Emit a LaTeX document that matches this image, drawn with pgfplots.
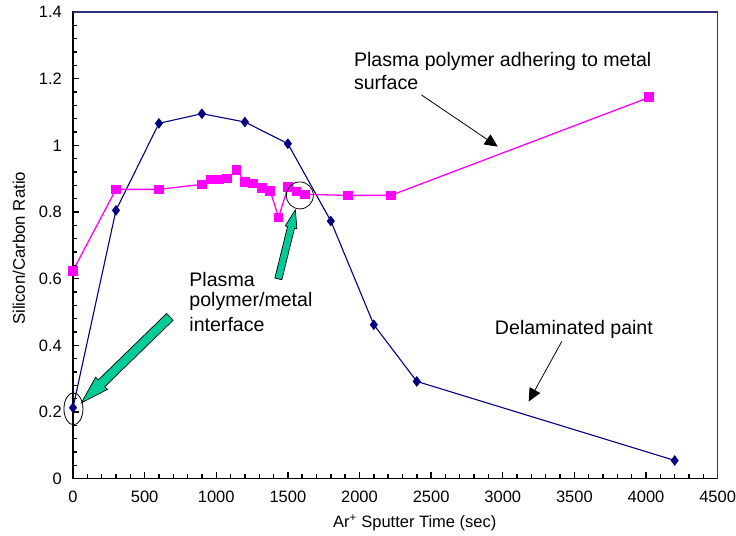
\documentclass[border=0pt]{standalone}
\usepackage{pgfplots}
\pgfplotsset{compat=1.18}
\usepackage{fontspec}
\setmainfont{Liberation Sans}
\usetikzlibrary{arrows.meta,calc}
\definecolor{navyb}{RGB}{0,0,128}
\definecolor{magen}{RGB}{255,0,255}
\definecolor{framec}{RGB}{50,50,130}
\definecolor{arrgreen}{RGB}{0,204,153}

\newcommand{\fatarrow}[5]{%
  \coordinate (fa) at #1; \coordinate (fb) at #2;
  \coordinate (fc) at ($(fb)!#5!(fa)$);
  \filldraw[draw=black, fill=arrgreen, line width=0.7pt, line join=miter]
    ($(fa)!#3!90:(fb)$) -- ($(fc)!#3!90:(fb)$) -- ($(fc)!#4!90:(fb)$) -- (fb)
    -- ($(fc)!#4!-90:(fb)$) -- ($(fc)!#3!-90:(fb)$) -- ($(fa)!#3!-90:(fb)$) -- cycle;
}

\begin{document}
\begin{tikzpicture}
\begin{scope}[x=1pt,y=-1pt,shift={(-73pt,479pt)}]
\path[use as bounding box] (0,0) rectangle (736,536);
\end{scope}

\begin{axis}[
  name=ax,
  at={(0pt,0pt)}, anchor=south west,
  scale only axis, width=645pt, height=467pt,
  xmin=0, xmax=4500, ymin=0, ymax=1.4,
  xtick={0,500,1000,1500,2000,2500,3000,3500,4000,4500},
  ytick={0,0.2,0.4,0.6,0.8,1,1.2,1.4},
  minor x tick num=4, minor y tick num=4,
  tick align=inside, tick pos=left,
  major tick length=6.5pt, minor tick length=4.5pt,
  axis line style={black, line width=1.2pt},
  tick style={black, line width=1.4pt},
  scaled ticks=false,
  /pgf/number format/1000 sep={},
  /pgf/number format/assume math mode=true,
  ticklabel style={font=\fontsize{16.5}{18}\selectfont},
  xticklabel style={anchor=north, inner sep=0pt, yshift=-11.7pt},
  yticklabel style={anchor=east, inner sep=0pt, xshift=-11pt},
  xlabel={Ar\textsuperscript{+} Sputter Time (sec)},
  every axis x label/.style={at={([xshift=260pt,yshift=-49pt]rel axis cs:0,0)}, anchor=base west, inner sep=0pt, font=\fontsize{16.5}{18}\selectfont},
  ylabel={Silicon/Carbon Ratio},
  every axis y label/.style={at={([xshift=-54pt,yshift=-3pt]rel axis cs:0,0.5)}, rotate=90, anchor=center, inner sep=0pt, font=\fontsize{16.8}{18}\selectfont},
  clip=false,
]
\addplot[navyb, line width=1.1pt, mark=diamond*, mark size=4.5pt, mark options={solid, fill=navyb}] coordinates {
 (0,0.213) (300,0.805) (600,1.066) (900,1.095) (1200,1.070) (1500,1.005)
 (1800,0.773) (2100,0.462) (2400,0.292) (4200,0.055)
};
\addplot[magen, line width=1.3pt, mark=square*, mark size=4.2pt, mark options={solid, fill=magen}] coordinates {
 (0,0.624) (300,0.868) (600,0.868) (900,0.883) (963,0.898) (1019,0.898)
 (1077,0.901) (1142,0.926) (1202,0.891) (1258,0.886) (1319,0.873)
 (1377,0.863) (1435,0.784) (1502,0.876) (1561,0.862) (1621,0.853)
 (1921,0.850) (2219,0.850) (4023,1.144)
};
\end{axis}
\draw[framec, line width=1.1pt] (ax.north west) -- (ax.north east) -- (ax.south east);

\begin{scope}[x=1pt,y=-1pt,shift={(-73pt,479pt)}]
% axis tick marks (inside), bottom and left
\foreach \i in {1,...,44} \draw[black, line width=1.4pt] ({73+\i*14.33333},479) -- ++(0,-4.5);
\foreach \i in {5,10,...,40} \draw[black, line width=1.4pt] ({73+\i*14.33333},479) -- ++(0,-6.5);
\foreach \i in {1,...,34} \draw[black, line width=1.4pt] (73,{479-\i*13.34286}) -- ++(4.5,0);
\foreach \i in {5,10,...,30} \draw[black, line width=1.4pt] (73,{479-\i*13.34286}) -- ++(6.5,0);
\tikzset{ann/.style={anchor=base west, inner sep=0pt, font=\fontsize{19.6}{23}\selectfont}}
\node[ann] at (354,66.7) {Plasma polymer adhering to metal};
\node[ann] at (354,90) {surface};
\node[ann] at (189.3,286.7) {Plasma};
\node[ann] at (189.3,306.7) {polymer/metal};
\node[ann] at (189.3,331.7) {interface};
\node[ann] at (495,335) {Delaminated paint};
\draw[black, line width=0.8pt, -{Triangle[length=13pt, width=12pt]}] (421.7,95) -- (498,146.7);
\draw[black, line width=0.8pt, -{Triangle[length=13pt, width=12pt]}] (562,341.7) -- (528.9,401.7);
\draw[black, line width=0.8pt] (73.5,409) ellipse [x radius=9.5, y radius=16];
\draw[black, line width=0.8pt] (300,195.5) circle [radius=13.5];
\fatarrow{(170,317)}{(81.5,403)}{4.7pt}{8.5pt}{28pt}
\fatarrow{(278.5,279)}{(295.5,210)}{3.6pt}{6pt}{18pt}
\end{scope}
\end{tikzpicture}
\end{document}
